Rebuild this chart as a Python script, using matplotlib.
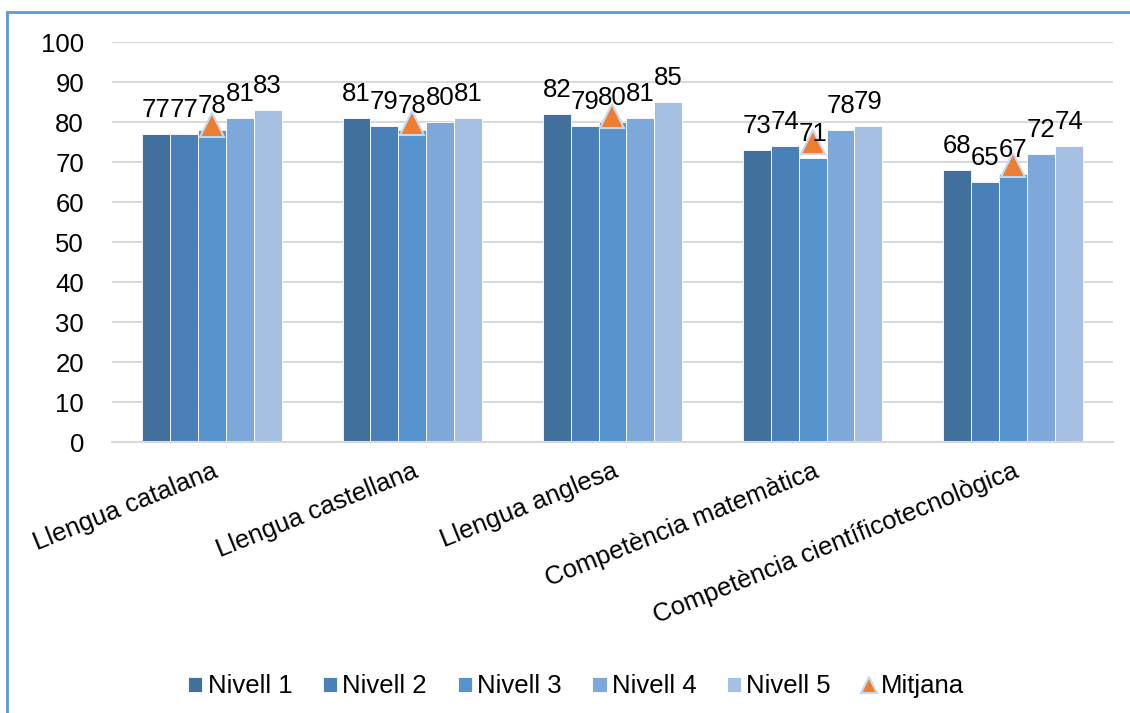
import matplotlib.pyplot as plt
import numpy as np
from matplotlib.lines import Line2D

plt.rcParams["font.family"] = ["Liberation Sans", "DejaVu Sans"]

categories = [
    "Llengua catalana",
    "Llengua castellana",
    "Llengua anglesa",
    "Competència matemàtica",
    "Competència científicotecnològica",
]
series_names = ["Nivell 1", "Nivell 2", "Nivell 3", "Nivell 4", "Nivell 5"]
nivell1 = [77, 81, 82, 73, 68]
nivell2 = [77, 79, 79, 74, 65]
nivell3 = [78, 78, 80, 71, 67]
nivell4 = [81, 80, 81, 78, 72]
nivell5 = [83, 81, 85, 79, 74]
mitjana = [79.2, 79.8, 81.4, 75.0, 69.2]

colors = ["#41709C", "#4A80B8", "#5693CC", "#7DA8D9", "#A5C0E3"]
series = [nivell1, nivell2, nivell3, nivell4, nivell5]
fs = 18.5

fig = plt.figure(figsize=(11.3, 7.13), dpi=100)
ax = fig.add_axes([0.099, 0.380, 0.886, 0.561])

x = np.arange(len(categories))
w = 0.139
for i, (vals, name, c) in enumerate(zip(series, series_names, colors)):
    pos = x + (i - 2) * w
    ax.bar(pos, vals, width=w, color=c, edgecolor="white", linewidth=0.6,
           label=name, zorder=2)
    for xx, v in zip(pos, vals):
        ax.annotate(f"{v:.0f}", (xx, v), xytext=(0, 9), textcoords="offset points",
                    ha="center", va="bottom", fontsize=fs, color="black", zorder=4)

ax.plot(x, mitjana, linestyle="none", marker="^", markersize=17,
        markerfacecolor="#ED7D31", markeredgecolor="#C5D9EE", markeredgewidth=1.5,
        label="Mitjana", zorder=3)

ax.set_ylim(0, 100)
ax.set_xlim(-0.5, 4.5)
ax.set_yticks(range(0, 101, 10))
ax.yaxis.grid(True, color="#D9D9D9", linewidth=1.5, zorder=0)
ax.set_axisbelow(True)
for s in ["top", "right", "left"]:
    ax.spines[s].set_visible(False)
ax.spines["bottom"].set_color("#D9D9D9")
ax.spines["bottom"].set_linewidth(1.5)
ax.tick_params(axis="y", length=0, labelsize=fs, pad=20)
ax.tick_params(axis="x", length=0, labelsize=fs, pad=12)
ax.set_xticks(x)
ax.set_xticklabels(categories, rotation=22, ha="right", rotation_mode="anchor")

handles, labels = ax.get_legend_handles_labels()
order = [1, 2, 3, 4, 5, 0]
fig.legend([handles[k] for k in order], [labels[k] for k in order],
           loc="lower center", bbox_to_anchor=(0.51, -0.012),
           ncol=6, frameon=False, fontsize=fs, handlelength=0.55, handleheight=0.55,
           handletextpad=0.2, columnspacing=1.2, markerscale=0.7)

fig.add_artist(Line2D([0.0066, 0.0066], [0.0, 0.983], color="#5B9BD5", linewidth=2,
                      transform=fig.transFigure))
fig.add_artist(Line2D([0.0066, 1.0], [0.983, 0.983], color="#5B9BD5", linewidth=2,
                      transform=fig.transFigure))

plt.savefig("out.png", dpi=100)
